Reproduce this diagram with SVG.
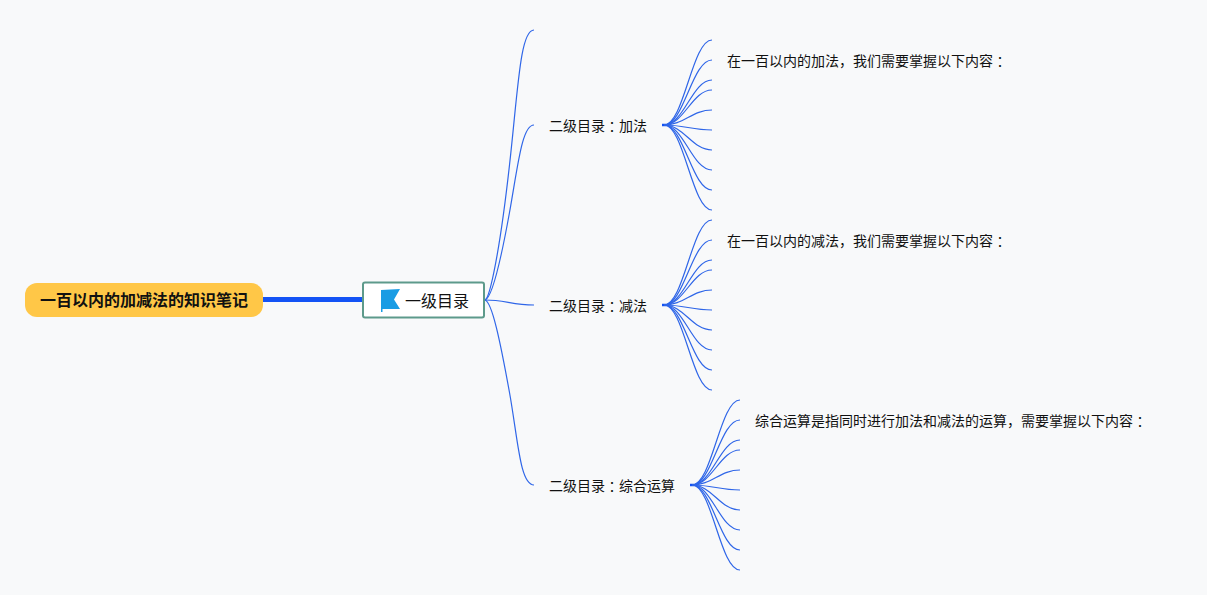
<svg xmlns="http://www.w3.org/2000/svg" width="1207" height="595" viewBox="0 0 1207 595">
<style>
text{font-family:"Liberation Sans","Noto Sans CJK SC",sans-serif;fill:#111;dominant-baseline:central}
.t{font-size:14px}
.k{font-family:"Noto Sans CJK TC",sans-serif}
.c{fill:none;stroke:#2f66e8;stroke-width:1.2}
</style>
<rect width="1207" height="595" fill="#f8f9fa"/>
<g id="connectors">
<path d="M263 299.500H362" fill="none" stroke="#1353f5" stroke-width="5"/>
<path class="c" d="M485 300C490 298 500 250 509.500 165C518 90 520 30 534 30"/>
<path class="c" d="M485 300C492 298 500 265 509.500 212.500C518 165 522 125 534 125"/>
<path class="c" d="M485 300C505 300 512 305 534 305"/>
<path class="c" d="M485 300C492 302 500 340 509.500 392.500C518 440 520 485 534 485"/>
<g id="fan1">
<path d="M662 125H669" stroke="#1353f5" stroke-width="2.500"/>
<path class="c" d="M664 125C684 125 692 40 712 40"/><path class="c" d="M664 125C684 125 692 60 712 60"/><path class="c" d="M664 125C684 125 692 80 712 80"/><path class="c" d="M664 125C684 125 692 90 712 90"/><path class="c" d="M664 125C684 125 692 110 712 110"/><path class="c" d="M664 125C684 125 692 130 712 130"/><path class="c" d="M664 125C684 125 692 150 712 150"/><path class="c" d="M664 125C684 125 692 170 712 170"/><path class="c" d="M664 125C684 125 692 190 712 190"/><path class="c" d="M664 125C684 125 692 210 712 210"/>
</g>
<g id="fan2">
<path d="M662 305H669" stroke="#1353f5" stroke-width="2.500"/>
<path class="c" d="M664 305C684 305 692 220 712 220"/><path class="c" d="M664 305C684 305 692 240 712 240"/><path class="c" d="M664 305C684 305 692 260 712 260"/><path class="c" d="M664 305C684 305 692 270 712 270"/><path class="c" d="M664 305C684 305 692 290 712 290"/><path class="c" d="M664 305C684 305 692 310 712 310"/><path class="c" d="M664 305C684 305 692 330 712 330"/><path class="c" d="M664 305C684 305 692 350 712 350"/><path class="c" d="M664 305C684 305 692 370 712 370"/><path class="c" d="M664 305C684 305 692 390 712 390"/>
</g>
<g id="fan3">
<path d="M690 485H697" stroke="#1353f5" stroke-width="2.500"/>
<path class="c" d="M692 485C712 485 720 400 740 400"/><path class="c" d="M692 485C712 485 720 420 740 420"/><path class="c" d="M692 485C712 485 720 440 740 440"/><path class="c" d="M692 485C712 485 720 450 740 450"/><path class="c" d="M692 485C712 485 720 470 740 470"/><path class="c" d="M692 485C712 485 720 490 740 490"/><path class="c" d="M692 485C712 485 720 510 740 510"/><path class="c" d="M692 485C712 485 720 530 740 530"/><path class="c" d="M692 485C712 485 720 550 740 550"/><path class="c" d="M692 485C712 485 720 570 740 570"/>
</g>
</g>
<g id="root"><rect x="25" y="283" width="238" height="34" rx="12" fill="#ffc747"/><text x="144" y="300.500" text-anchor="middle" font-size="16" font-weight="700">一百以内的加减法的知识笔记</text></g>
<g id="level1"><rect x="363" y="282.500" width="121" height="35" rx="2" fill="#fff" stroke="#5d9a8b" stroke-width="2"/>
<path d="M381 290L400 289L394 299.500L400 309H382.500V312H381Z" fill="#1a9ce4"/>
<text x="405" y="301" font-size="16">一级目录</text></g>
<g id="b1"><text class="t" x="549" y="126">二级目录<tspan class="k">：</tspan>加法</text></g>
<g id="b2"><text class="t" x="549" y="306">二级目录<tspan class="k">：</tspan>减法</text></g>
<g id="b3"><text class="t" x="549" y="486">二级目录<tspan class="k">：</tspan>综合运算</text></g>
<g id="n1"><text class="t" x="727" y="60.500">在一百以内的加法，我们需要掌握以下内容<tspan class="k">：</tspan></text></g>
<g id="n2"><text class="t" x="727" y="240.500">在一百以内的减法，我们需要掌握以下内容<tspan class="k">：</tspan></text></g>
<g id="n3"><text class="t" x="755" y="421">综合运算是指同时进行加法和减法的运算，需要掌握以下内容<tspan class="k">：</tspan></text></g>
</svg>
